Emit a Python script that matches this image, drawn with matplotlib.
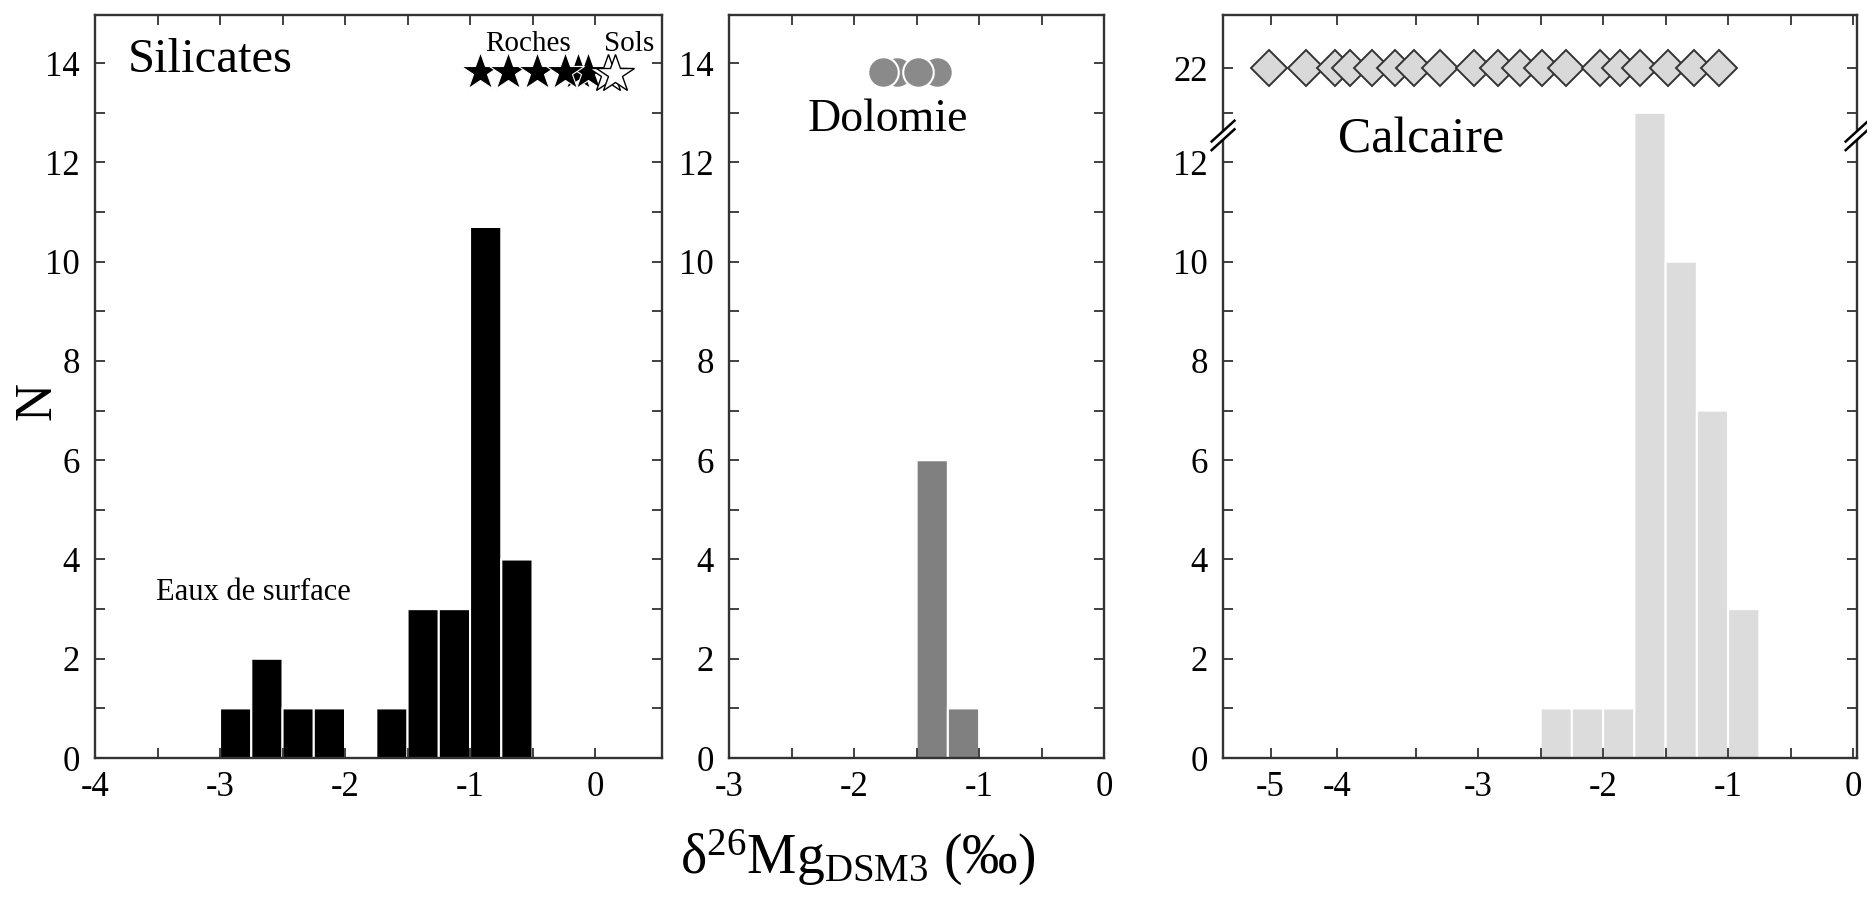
import numpy as np
import matplotlib
matplotlib.use('Agg')
import matplotlib.pyplot as plt

plt.rcParams['font.family'] = ['Liberation Serif', 'DejaVu Serif']
plt.rcParams['mathtext.fontset'] = 'custom'
plt.rcParams['mathtext.rm'] = 'Liberation Serif'
plt.rcParams['mathtext.it'] = 'Liberation Serif:italic'
plt.rcParams['axes.unicode_minus'] = False

# --- data ---
# Silicates (surface waters) histogram, bin left edges and counts
sil_left = [-3.0, -2.75, -2.5, -2.25, -2.0, -1.75, -1.5, -1.25, -1.0, -0.75]
sil_counts = [1, 2, 1, 1, 0, 1, 3, 3, 10.7, 4]
roches_x = [-0.134, -0.054, -0.92, -0.693, -0.466, -0.24]
roches_y = [13.83, 13.83, 13.83, 13.83, 13.83, 13.83]
sols_x = [0.106, 0.16]
sols_y = [13.78, 13.78]

# Dolomie
dol_left = [-1.5, -1.25]
dol_counts = [6, 1]
dol_pts_x = [-1.659, -1.334, -1.765, -1.486]
dol_pts_y = [13.83, 13.83, 13.83, 13.83]

# Calcaire
cal_left = [-2.5, -2.25, -2.0, -1.75, -1.5, -1.25, -1.0]
cal_counts = [1, 1, 1, 13, 10, 7, 3]
cal_pts_x = [-4.669, -4.374, -4.147, -4.022, -3.845, -3.665, -3.511, -3.306,
             -3.032, -2.838, -2.665, -2.486, -2.295, -2.025, -1.867, -1.705,
             -1.478, -1.273, -1.072]
cal_pts_y = [22] * len(cal_pts_x)
cal_xtick_pos = [-4.66, -4.13, -3, -2, -1, 0]
cal_xtick_lab = ['-5', '-4', '-3', '-2', '-1', '0']

BW = 0.25
SPINE = '#333333'
TICK_FS = 25

fig = plt.figure(figsize=(18.67, 9.05), dpi=100)
ax1 = fig.add_axes([0.0509, 0.1624, 0.3037, 0.821])
ax2 = fig.add_axes([0.3905, 0.1624, 0.2009, 0.821])
ax3 = fig.add_axes([0.6551, 0.1624, 0.3396, 0.821])


def style(ax):
    for s in ax.spines.values():
        s.set_color(SPINE)
        s.set_linewidth(1.7)
    ax.tick_params(which='both', direction='in', top=True, right=True,
                   color=SPINE, width=1.3, labelsize=TICK_FS, length=7)
    ax.tick_params(axis='y', pad=11)
    ax.tick_params(axis='x', pad=9)


# --- Silicates ---
ax1.bar(sil_left, sil_counts, width=BW, align='edge', color='black',
        edgecolor='white', linewidth=1.5, snap=False)
ax1.plot(roches_x, roches_y, ls='none', marker='*', ms=29, mfc='black',
         mec='white', mew=0.8, clip_on=False)
ax1.plot(sols_x, sols_y, ls='none', marker='*', ms=29, mfc='white',
         mec='black', mew=1.0, clip_on=False)
ax1.set_xlim(-4, 0.536)
ax1.set_ylim(0, 14.97)
ax1.set_xticks([-4, -3, -2, -1, 0])
ax1.set_xticks([-3.5, -2.5, -1.5, -0.5], minor=True)
ax1.set_yticks(range(0, 15, 2))
ax1.set_yticks(range(1, 15, 2), minor=True)
ax1.text(-3.74, 14.07, 'Silicates', fontsize=35, va='center', ha='left')
ax1.text(-3.51, 3.34, 'Eaux de surface', fontsize=22, va='center', ha='left')
ax1.text(-0.536, 14.38, 'Roches', fontsize=21, va='center', ha='center')
ax1.text(0.272, 14.38, 'Sols', fontsize=21, va='center', ha='center')
ax1.set_ylabel('N', fontsize=38)
ax1.yaxis.set_label_coords(-0.06, 0.48)
style(ax1)

# --- Dolomie ---
ax2.bar(dol_left, dol_counts, width=BW, align='edge', color='#808080',
        edgecolor='white', linewidth=1.5, snap=False)
ax2.plot(dol_pts_x, dol_pts_y, ls='none', marker='o', ms=22, mfc='#8a8a8a',
         mec='white', mew=1.5, clip_on=False)
ax2.set_xlim(-3, 0)
ax2.set_ylim(0, 14.97)
ax2.set_xticks([-3, -2, -1, 0])
ax2.set_xticks([-2.5, -1.5, -0.5], minor=True)
ax2.set_yticks(range(0, 15, 2))
ax2.set_yticks(range(1, 15, 2), minor=True)
ax2.text(-1.73, 12.85, 'Dolomie', fontsize=33, va='center', ha='center')
style(ax2)

# --- Calcaire (broken y axis) ---
BRK = 13.5
K = 0.047


def fwd(y):
    y = np.asarray(y, dtype=float)
    return np.where(y <= BRK, y, BRK + (y - BRK) * K)


def inv(y):
    y = np.asarray(y, dtype=float)
    return np.where(y <= BRK, y, BRK + (y - BRK) / K)


ax3.set_yscale('function', functions=(fwd, inv))
ax3.bar(cal_left, cal_counts, width=BW, align='edge', color='#dcdcdc',
        edgecolor='white', linewidth=1.5, snap=False)
ax3.plot(cal_pts_x, cal_pts_y, ls='none', marker='D', ms=18.5, mfc='#d9d9d9',
         mec='#333333', mew=1.4, clip_on=False)
ax3.set_xlim(-5.04, 0.032)
ax3.set_ylim(0, float(inv(14.97)))
ax3.set_xticks(cal_xtick_pos)
ax3.set_xticklabels(cal_xtick_lab)
ax3.set_xticks([-3.5, -2.5, -1.5, -0.5], minor=True)
ax3.set_yticks([0, 2, 4, 6, 8, 10, 12, 22])
ax3.set_yticks([1, 3, 5, 7, 9, 11, 13], minor=True)
ax3.text(-4.12, 12.45, 'Calcaire', fontsize=36, va='center', ha='left')
style(ax3)

# axis-break marks on both vertical spines
yb = 0.838
for xb in (0.0, 1.0):
    dx, dy, sep = 0.018, 0.014, 0.0058
    gap = plt.Polygon([[xb - dx, yb - dy - sep], [xb + dx, yb + dy - sep],
                       [xb + dx, yb + dy + sep], [xb - dx, yb - dy + sep]],
                      closed=True, transform=ax3.transAxes, facecolor='white',
                      edgecolor='none', clip_on=False, zorder=5)
    ax3.add_patch(gap)
    for s in (-sep, sep):
        ax3.plot([xb - dx, xb + dx], [yb - dy + s, yb + dy + s],
                 transform=ax3.transAxes, color='black', lw=1.8,
                 clip_on=False, zorder=6)

fig.text(858 / 1867, 1 - 858 / 905,
         r'δ$^{26}$Mg$_{\mathrm{DSM3}}$ (‰)', fontsize=40,
         ha='center', va='center')

fig.savefig('out.png', dpi=100)
